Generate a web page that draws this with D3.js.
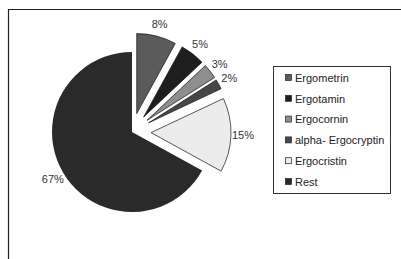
<!DOCTYPE html>
<html>
<head>
<meta charset="utf-8">
<script src="https://cdn.jsdelivr.net/npm/d3@7"></script>
<style>
  body { margin: 0; background: #fff; }
  svg { display: block; font-family: "Liberation Sans", Arial, sans-serif; }
</style>
</head>
<body>
<div id="chart"></div>
<script>
const names = ["Ergometrin", "Ergotamin", "Ergocornin", "alpha- Ergocryptin", "Ergocristin", "Rest"];
const values = [8, 5, 3, 2, 15, 67];
const fills = ["#5b5b5b", "#1e1e1e", "#8e8e8e", "#474747", "#ececec", "#2a2a2a"];
const exploded = [true, true, true, true, true, false];

const width = 401, height = 259;
const cx = 132, cy = 132, radius = 80;
const explode = 19;

const svg = d3.select("#chart").append("svg")
  .attr("width", width)
  .attr("height", height);

// frame (top and left edges only visible)
svg.append("path")
  .attr("d", `M8.5,${height} V9.5 H${width}`)
  .attr("fill", "none")
  .attr("stroke", "#222")
  .attr("stroke-width", 1.2);

const data = names.map((n, i) => ({ name: n, value: values[i], fill: fills[i], exploded: exploded[i] }));

const pie = d3.pie().sort(null).value(d => d.value);
const arcs = pie(data);
const arc = d3.arc().innerRadius(0).outerRadius(radius);

const g = svg.append("g").attr("transform", `translate(${cx},${cy})`);

function shift(d) {
  if (!d.data.exploded) return [0, 0];
  const a = (d.startAngle + d.endAngle) / 2;
  return [Math.sin(a) * explode, -Math.cos(a) * explode];
}

g.selectAll("path.slice")
  .data(arcs)
  .enter()
  .append("path")
  .attr("class", "slice")
  .attr("transform", d => `translate(${shift(d)})`)
  .attr("d", arc)
  .attr("fill", d => d.data.fill)
  .attr("stroke", d => d.data.exploded ? "#111" : "none")
  .attr("stroke-width", 0.7);

const labelR = radius + 12;
g.selectAll("text.pct")
  .data(arcs)
  .enter()
  .append("text")
  .attr("class", "pct")
  .attr("x", d => { const a = (d.startAngle + d.endAngle) / 2; return shift(d)[0] + Math.sin(a) * labelR; })
  .attr("y", d => { const a = (d.startAngle + d.endAngle) / 2; return shift(d)[1] - Math.cos(a) * labelR; })
  .attr("dy", "0.35em")
  .attr("text-anchor", "middle")
  .attr("font-size", 11)
  .attr("fill", "#333")
  .text(d => d.data.value + "%");

// legend
const legend = svg.append("g").attr("transform", "translate(273,66)");
legend.append("rect")
  .attr("x", 0.5).attr("y", 0.5)
  .attr("width", 117).attr("height", 127)
  .attr("fill", "#fff")
  .attr("stroke", "#333")
  .attr("stroke-width", 1);

const rowY = d3.scalePoint().domain(names).range([12, 116]);
const items = legend.selectAll("g.item")
  .data(data)
  .enter()
  .append("g")
  .attr("class", "item")
  .attr("transform", d => `translate(0,${rowY(d.name)})`);

items.append("rect")
  .attr("x", 12.5).attr("y", -3.5)
  .attr("width", 6).attr("height", 6)
  .attr("fill", d => d.fill)
  .attr("stroke", "#222")
  .attr("stroke-width", 0.7);

items.append("text")
  .attr("x", 22)
  .attr("y", 0)
  .attr("dy", "0.35em")
  .attr("font-size", 11)
  .attr("fill", "#222")
  .text(d => d.name);
</script>
</body>
</html>
